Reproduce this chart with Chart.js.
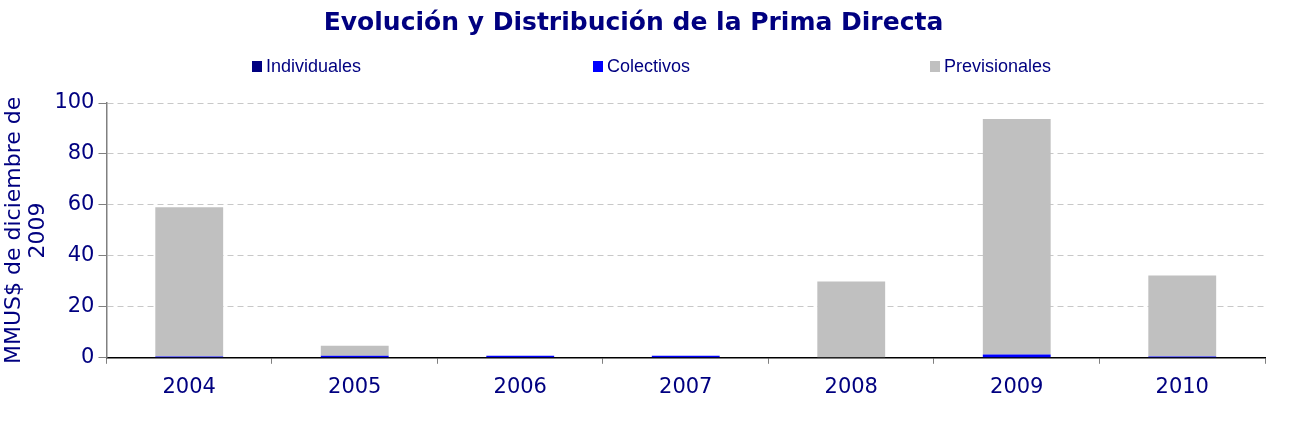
<!DOCTYPE html>
<html><head><meta charset="utf-8">
<script src="https://cdn.jsdelivr.net/npm/chart.js@4"></script>
<style>html,body{margin:0;padding:0;background:#fff;}#wrap{width:1297px;height:436px;}</style>
</head><body><div id="wrap"><canvas id="c" width="1297" height="436"></canvas></div>
<script>
const categories = ["2004","2005","2006","2007","2008","2009","2010"];
const individuales = [0, 0, 0, 0, 0, 0, 0];
const colectivos = [0.5, 0.8, 0.8, 0.8, 0, 1.3, 0.5];
const previsionales = [58.6, 3.9, 0, 0, 29.9, 92.4, 31.8];
const seriesNames = ['Individuales', 'Colectivos', 'Previsionales'];

const navy = '#000080';
const legendX = [252, 593, 930];

const spreadLegend = {
  id: 'spreadLegend',
  afterDraw(chart) {
    const ctx = chart.ctx;
    ctx.save();
    ctx.font = '18px "Liberation Sans"';
    ctx.textBaseline = 'middle';
    chart.data.datasets.forEach((ds, i) => {
      const x = legendX[i], y = 67;
      ctx.fillStyle = ds.backgroundColor;
      ctx.fillRect(x, y - 6, 10, 11);
      ctx.fillStyle = navy;
      ctx.fillText(ds.label, x + 14, y);
    });
    ctx.restore();
  }
};

new Chart(document.getElementById('c'), {
  type: 'bar',
  data: {
    labels: categories,
    datasets: [
      {label: seriesNames[0], data: individuales, backgroundColor: '#000080'},
      {label: seriesNames[1], data: colectivos, backgroundColor: '#0000ff'},
      {label: seriesNames[2], data: previsionales, backgroundColor: '#c0c0c0'}
    ]
  },
  plugins: [spreadLegend],
  options: {
    responsive: false,
    animation: false,
    layout: {padding: {left: 2, right: 32, bottom: 25, top: 0}},
    datasets: {bar: {categoryPercentage: 1, barPercentage: 0.41}},
    plugins: {
      title: {display: true, text: 'Evolución y Distribución de la Prima Directa',
        color: navy, font: {family: 'DejaVu Sans', size: 25, weight: 'bold'}, padding: {top: 8, bottom: 65}},
      legend: {display: false},
      tooltip: {enabled: false}
    },
    scales: {
      x: {stacked: true,
        grid: {offset: true, drawOnChartArea: false, color: '#808080', tickLength: 6},
        border: {color: '#000', width: 1.5},
        ticks: {color: navy, font: {family: 'DejaVu Sans', size: 21}, padding: 11}
      },
      y: {stacked: true, min: 0, max: 100,
        grid: {color: '#c8c8c8', tickColor: '#808080', tickBorderDash: [0, 0], tickLength: 8},
        border: {color: '#808080', width: 1.5, dash: [6, 4]},
        ticks: {stepSize: 20, autoSkip: false, color: navy, font: {family: 'DejaVu Sans', size: 21}, padding: 4},
        title: {display: true, text: ['MMUS$ de diciembre de', '2009'], color: navy,
          font: {family: 'DejaVu Sans', size: 22, lineHeight: 1.1}, padding: 0}
      }
    }
  }
});
</script></body></html>
